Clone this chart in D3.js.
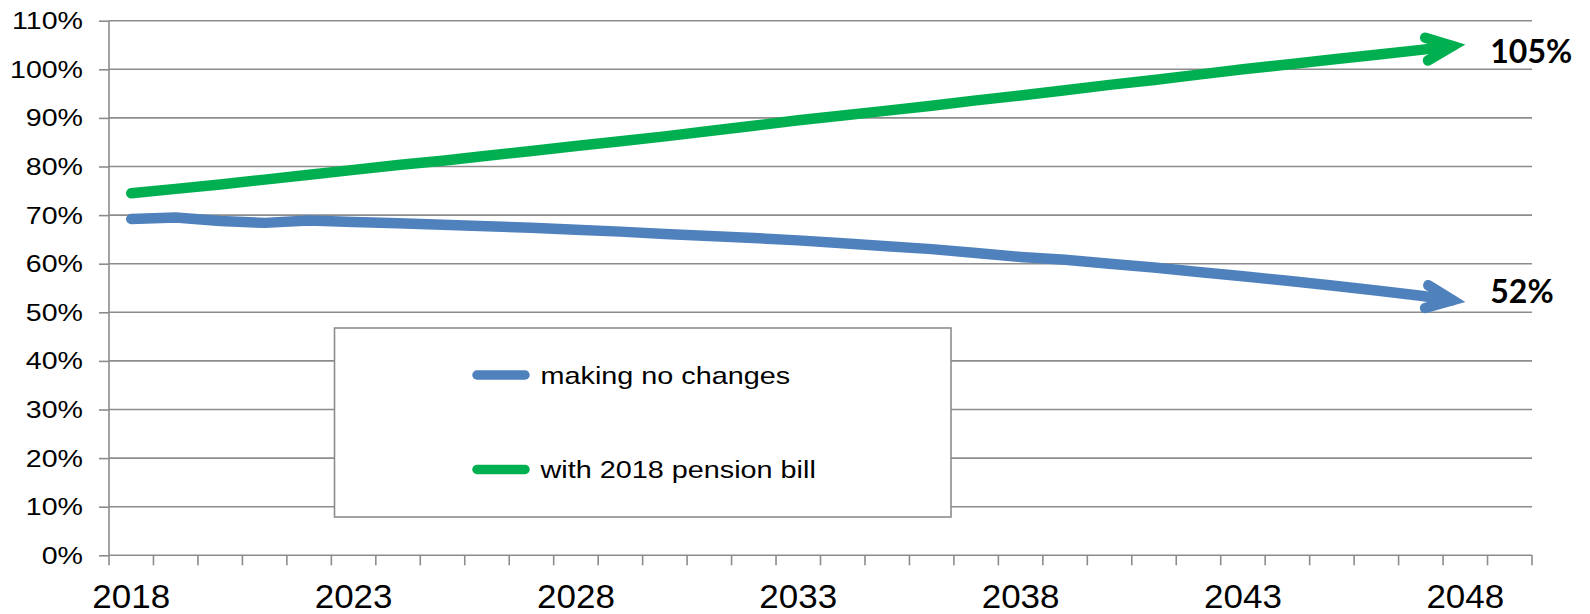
<!DOCTYPE html>
<html>
<head>
<meta charset="utf-8">
<script src="https://cdn.jsdelivr.net/npm/d3@7"></script>
<style>
  html, body { margin: 0; padding: 0; background: #fff; }
  svg { display: block; }
</style>
</head>
<body>
<svg id="chart" width="1590" height="614"></svg>
<script>
// ---------- data ----------
const categories = ["2018","2019","2020","2021","2022","2023","2024","2025","2026","2027",
  "2028","2029","2030","2031","2032","2033","2034","2035","2036","2037",
  "2038","2039","2040","2041","2042","2043","2044","2045","2046","2047",
  "2048","2049"];
const tickLabels = ["2018","2023","2028","2033","2038","2043","2048"];
const yTickValues = [0, 10, 20, 30, 40, 50, 60, 70, 80, 90, 100, 110];
const seriesNames = ["making no changes", "with 2018 pension bill"];
const noChanges = [69.2, 69.5, 68.8, 68.4, 68.9, 68.6, 68.3, 68.0, 67.7, 67.4,
  67.0, 66.6, 66.1, 65.7, 65.3, 64.8, 64.2, 63.6, 63.0, 62.2,
  61.4, 60.8, 60.0, 59.2, 58.3, 57.4, 56.5, 55.5, 54.5, 53.4, 52.1];
const pensionBill = [74.5, 75.4, 76.3, 77.3, 78.3, 79.3, 80.3, 81.2, 82.2, 83.2,
  84.2, 85.2, 86.2, 87.3, 88.4, 89.5, 90.5, 91.5, 92.5, 93.6,
  94.6, 95.7, 96.8, 97.8, 98.9, 100.0, 101.0, 102.0, 103.0, 104.0, 105.1];
const endLabels = ["52%", "105%"];

(function () {
// ---------- layout ----------
const svg = d3.select("#chart");
const pLeft = 109, pRight = 1532, pTop = 20.7, pBottom = 555.3;
const gridColor = "#8c8c8c";
const colors = ["#4f81bd", "#00b050"];
const labelDy = [-10.5, 7];   // vertical offset of end label centre from arrow tip

const x = d3.scaleBand().domain(categories).range([pLeft, pRight]).paddingInner(0).paddingOuter(0);
const y = d3.scaleLinear().domain([0, 110]).range([pBottom, pTop]);
const cx = c => x(c) + x.bandwidth() / 2;

// gridlines
svg.append("g").selectAll("line")
  .data(yTickValues.filter(v => v > 0))
  .join("line")
  .attr("x1", pLeft).attr("x2", pRight)
  .attr("y1", d => y(d)).attr("y2", d => y(d))
  .attr("stroke", gridColor).attr("stroke-width", 1.6);

// y axis
const yAxis = svg.append("g").attr("transform", `translate(${pLeft},0)`)
  .call(d3.axisLeft(y).tickValues(yTickValues).tickSize(10).tickFormat(""));
yAxis.select(".domain").attr("stroke", gridColor).attr("stroke-width", 1.6)
  .attr("d", `M0,${pTop}V${pBottom}`);
yAxis.selectAll(".tick line").attr("stroke", gridColor).attr("stroke-width", 1.6);

// y labels (horizontally stretched like the original)
svg.append("g").selectAll("text")
  .data(yTickValues)
  .join("text")
  .attr("transform", d => `translate(83,${y(d) + 8.5}) scale(1.19,1)`)
  .attr("text-anchor", "end")
  .attr("font-family", "'Liberation Sans', Arial, sans-serif")
  .attr("font-size", 24)
  .attr("fill", "#000")
  .text(d => d + "%");

// x axis with ticks on category boundaries
const boundaries = categories.map(c => x(c)).concat([pRight]);
const xAxisG = svg.append("g");
xAxisG.append("line")
  .attr("x1", pLeft).attr("x2", pRight).attr("y1", pBottom).attr("y2", pBottom)
  .attr("stroke", gridColor).attr("stroke-width", 1.6);
xAxisG.selectAll("line.tk").data(boundaries).join("line").attr("class", "tk")
  .attr("x1", d => d).attr("x2", d => d)
  .attr("y1", pBottom).attr("y2", pBottom + 10)
  .attr("stroke", gridColor).attr("stroke-width", 1.6);
xAxisG.selectAll("text").data(tickLabels).join("text")
  .attr("transform", d => `translate(${cx(d)},608) scale(1.06,1)`)
  .attr("text-anchor", "middle")
  .attr("font-family", "'Liberation Sans', Arial, sans-serif")
  .attr("font-size", 33)
  .attr("fill", "#000")
  .text(d => d);

// ---------- series lines with arrowheads ----------
const allSeries = [noChanges, pensionBill];
const line = d3.line().x(d => d[0]).y(d => d[1]);

allSeries.forEach((vals, i) => {
  const pts = vals.map((v, j) => [cx(categories[j]), y(v)]);
  const P = pts[pts.length - 1], Q = pts[pts.length - 2];
  const ang = Math.atan2(P[1] - Q[1], P[0] - Q[0]);
  const shaft = pts.slice(0, -1).concat([[P[0] - 13 * Math.cos(ang), P[1] - 13 * Math.sin(ang)]]);
  svg.append("path")
    .attr("d", line(shaft))
    .attr("fill", "none")
    .attr("stroke", colors[i])
    .attr("stroke-width", 10.5)
    .attr("stroke-linejoin", "round")
    .attr("stroke-linecap", "round");
  svg.append("path")
    .attr("d", "M-39,-11.5L-12.9,0L-39,11.5")
    .attr("transform", `translate(${P[0]},${P[1]}) rotate(${ang * 180 / Math.PI})`)
    .attr("fill", "none")
    .attr("stroke", colors[i])
    .attr("stroke-width", 10.5)
    .attr("stroke-linejoin", "miter")
    .attr("stroke-miterlimit", 10)
    .attr("stroke-linecap", "round");
  svg.append("text")
    .attr("x", P[0] + 25)
    .attr("y", P[1] + labelDy[i])
    .attr("dy", "0.36em")
    .attr("font-family", "Lato, 'Liberation Sans', sans-serif")
    .attr("font-weight", "bold")
    .attr("font-size", 32)
    .attr("fill", "#000")
    .text(endLabels[i]);
});

// ---------- legend ----------
const legend = svg.append("g");
legend.append("rect")
  .attr("x", 334.5).attr("y", 328).attr("width", 616.5).attr("height", 189)
  .attr("fill", "#fff").attr("stroke", gridColor).attr("stroke-width", 1.6);
const legendY = [375, 469.5];
seriesNames.forEach((name, i) => {
  legend.append("line")
    .attr("x1", 477).attr("x2", 525)
    .attr("y1", legendY[i]).attr("y2", legendY[i])
    .attr("stroke", colors[i]).attr("stroke-width", 9.5)
    .attr("stroke-linecap", "round");
  legend.append("text")
    .attr("transform", `translate(540.5,${legendY[i] + 8.5}) scale(1.2,1)`)
    .attr("font-family", "'Liberation Sans', Arial, sans-serif")
    .attr("font-size", 24)
    .attr("fill", "#000")
    .text(name);
});
})();
</script>
</body>
</html>
